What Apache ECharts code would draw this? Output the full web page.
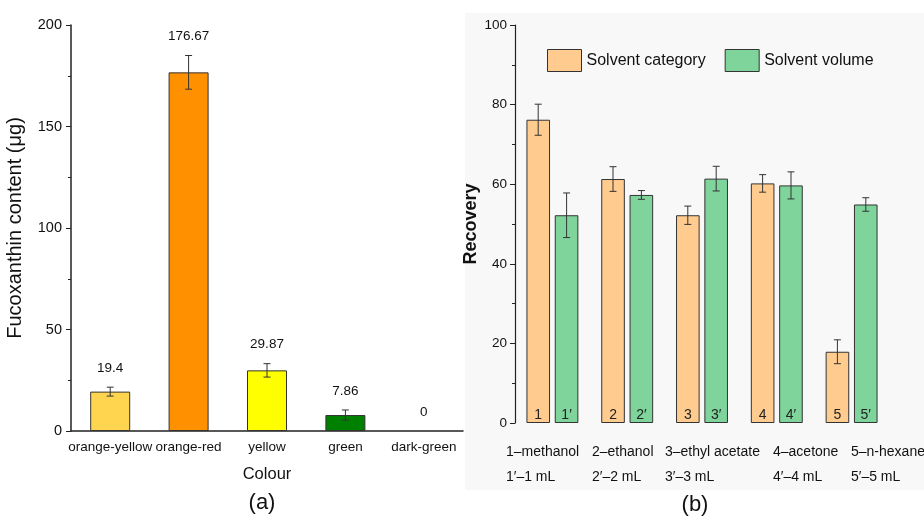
<!DOCTYPE html>
<html><head><meta charset="utf-8">
<script src="https://cdn.jsdelivr.net/npm/echarts@6/dist/echarts.min.js"></script>
<style>html,body{margin:0;padding:0;background:#fff}#c{width:924px;height:519px}</style>
</head><body><div id="c"></div>
<script>
// ---- data (a) ----
const colourCats = ['orange-yellow','orange-red','yellow','green','dark-green'];
const fucoValues = [19.4, 176.67, 29.87, 7.86, 0];
const fucoErrors = [2.2, 8.3, 3.3, 2.5, 0];
const fucoColors = ['#FFD54F','#FF9100','#FFFF00','#008000','#006400'];
const yTicksA = [0, 50, 100, 150, 200];
// ---- data (b) ----
const groupCats = ['1','2','3','4','5'];
const categoryLabels = ['1','2','3','4','5'];
const volumeLabels = ['1\u2032','2\u2032','3\u2032','4\u2032','5\u2032'];
const categoryValues = [76.2, 61.3, 52.2, 60.2, 17.9];
const categoryErrors = [3.9, 3.1, 2.3, 2.2, 3.0];
const volumeValues = [52.2, 57.3, 61.4, 59.7, 54.9];
const volumeErrors = [5.6, 1.1, 3.1, 3.4, 1.7];
const solventNames = ['1\u2013methanol','2\u2013ethanol','3\u2013ethyl acetate','4\u2013acetone','5\u2013n-hexane'];
const volumeNames = ['1\u2032\u20131 mL','2\u2032\u20132 mL','3\u2032\u20133 mL','4\u2032\u20134 mL','5\u2032\u20135 mL'];
const yTicksB = [0, 20, 40, 60, 80, 100];

const FONT = '"Liberation Sans", Arial, sans-serif';
const chart = echarts.init(document.getElementById('c'), null, {renderer:'canvas'});

function errRender(offset, withLabel) {
  return function (params, api) {
    const i = api.value(0), v = api.value(1), e = api.value(2);
    const top = api.coord([i, v + e]);
    const bot = api.coord([i, v - e]);
    const cx = top[0] + offset;
    const cap = 3.5;
    const st = {stroke:'#333', lineWidth:1};
    const children = [];
    if (e > 0) {
      children.push({type:'line', shape:{x1:cx,y1:top[1],x2:cx,y2:bot[1]}, style:st});
      children.push({type:'line', shape:{x1:cx-cap,y1:top[1],x2:cx+cap,y2:top[1]}, style:st});
      children.push({type:'line', shape:{x1:cx-cap,y1:bot[1],x2:cx+cap,y2:bot[1]}, style:st});
    }
    if (withLabel) {
      children.push({type:'text', style:{x:cx, y:top[1]-19, text:String(v), textAlign:'center', textVerticalAlign:'middle', fill:'#111', font:'13.5px ' + FONT}});
    }
    return {type:'group', children};
  };
}

const xLabelGraphics = [];
const xLabelLeft = [506, 592, 665, 773, 851];
solventNames.forEach((s, k) => {
  xLabelGraphics.push({type:'text', left:xLabelLeft[k], top:445, style:{text:s, font:'14px ' + FONT, fill:'#111'}});
  xLabelGraphics.push({type:'text', left:xLabelLeft[k], top:470, style:{text:volumeNames[k], font:'14px ' + FONT, fill:'#111'}});
});

const option = {
  animation:false,
  textStyle:{fontFamily:FONT},
  graphic:[
    {type:'rect', shape:{x:465, y:13, width:459, height:477}, style:{fill:'#F8F8F8'}, z:-10, silent:true},
    {type:'text', x:262, y:503, style:{text:'(a)', font:'22px ' + FONT, fill:'#111', textAlign:'center', textVerticalAlign:'middle'}},
    {type:'text', x:695, y:505, style:{text:'(b)', font:'22px ' + FONT, fill:'#111', textAlign:'center', textVerticalAlign:'middle'}},
    ...xLabelGraphics
  ],
  legend:{
    data:['Solvent category','Solvent volume'],
    left:547, top:49, padding:0,
    itemWidth:34, itemHeight:22, itemGap:19,
    icon:'rect',
    itemStyle:{borderColor:'#333', borderWidth:1},
    textStyle:{fontSize:16, color:'#111', fontFamily:FONT, padding:[0,0,0,0]}
  },
  grid:[
    {left:71, right:461, top:25, bottom:88},
    {left:515, right:35, top:25, bottom:96}
  ],
  xAxis:[
    {gridIndex:0, type:'category', data:colourCats,
      name:'Colour', nameLocation:'middle', nameGap:35,
      nameTextStyle:{fontSize:16.5, color:'#111'},
      axisLine:{lineStyle:{color:'#222', width:1.5}},
      axisTick:{alignWithLabel:true, length:5, lineStyle:{color:'#222'}},
      axisLabel:{fontSize:13.5, color:'#111', margin:9, interval:0}},
    {gridIndex:1, type:'category', data:groupCats,
      axisLine:{show:false}, axisTick:{show:false}, axisLabel:{show:false}}
  ],
  yAxis:[
    {gridIndex:0, type:'value', min:yTicksA[0], max:yTicksA[yTicksA.length-1], interval:50,
      name:'Fucoxanthin content (\u03bcg)', nameLocation:'middle', nameGap:46,
      nameTextStyle:{fontSize:20, color:'#111'},
      axisLine:{show:true, lineStyle:{color:'#222', width:1.5}},
      axisTick:{show:true, length:5, lineStyle:{color:'#222'}},
      minorTick:{show:true, splitNumber:2, length:3, lineStyle:{color:'#222'}},
      splitLine:{show:false},
      axisLabel:{fontSize:14.5, color:'#111', margin:9}},
    {gridIndex:1, type:'value', min:yTicksB[0], max:yTicksB[yTicksB.length-1], interval:20,
      name:'Recovery', nameLocation:'middle', nameGap:35,
      nameTextStyle:{fontSize:18, color:'#111', fontWeight:'bold'},
      axisLine:{show:true, lineStyle:{color:'#222', width:1.2}},
      axisTick:{show:true, length:5, lineStyle:{color:'#222'}},
      minorTick:{show:true, splitNumber:2, length:3, lineStyle:{color:'#222'}},
      splitLine:{show:false},
      axisLabel:{fontSize:13.5, color:'#111', margin:8}}
  ],
  series:[
    {type:'bar', xAxisIndex:0, yAxisIndex:0, barWidth:40,
      data:fucoValues.map((v,k)=>({value:v, itemStyle:{color:fucoColors[k], borderColor:'#333', borderWidth: v > 0 ? 1 : 0}}))},
    {type:'custom', xAxisIndex:0, yAxisIndex:0, renderItem:errRender(0, true),
      data:fucoValues.map((v,k)=>[k, v, fucoErrors[k]]), z:5},
    {name:'Solvent category', type:'bar', xAxisIndex:1, yAxisIndex:1, barWidth:23.6, barGap:'20%',
      itemStyle:{color:'#FFCB8E', borderColor:'#333', borderWidth:1},
      label:{show:true, position:'insideBottom', distance:1, fontSize:14, color:'#222',
        formatter:(p)=>categoryLabels[p.dataIndex]},
      data:categoryValues},
    {name:'Solvent volume', type:'bar', xAxisIndex:1, yAxisIndex:1, barWidth:23.6, barGap:'20%',
      itemStyle:{color:'#7ED49B', borderColor:'#333', borderWidth:1},
      label:{show:true, position:'insideBottom', distance:1, fontSize:14, color:'#222',
        formatter:(p)=>volumeLabels[p.dataIndex]},
      data:volumeValues},
    {type:'custom', xAxisIndex:1, yAxisIndex:1, renderItem:errRender(-14.2, false),
      data:categoryValues.map((v,k)=>[k, v, categoryErrors[k]]), z:5},
    {type:'custom', xAxisIndex:1, yAxisIndex:1, renderItem:errRender(14.2, false),
      data:volumeValues.map((v,k)=>[k, v, volumeErrors[k]]), z:5}
  ]
};
chart.setOption(option);
</script></body></html>
